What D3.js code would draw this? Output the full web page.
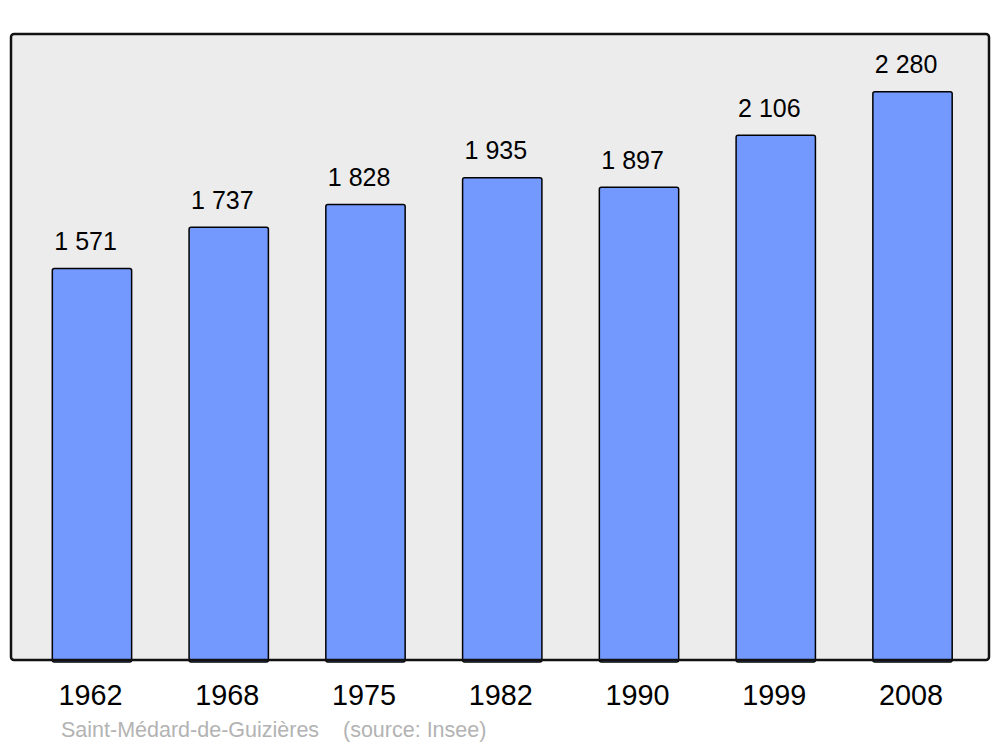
<!DOCTYPE html>
<html>
<head>
<meta charset="utf-8">
<script src="https://cdn.jsdelivr.net/npm/d3@7"></script>
<style>
  body { margin: 0; background: #fff; }
  text { font-family: "Liberation Sans", Arial, sans-serif; }
</style>
</head>
<body>
<div id="chart"></div>
<script>
// population data
const years = ["1962", "1968", "1975", "1982", "1990", "1999", "2008"];
const population = [1571, 1737, 1828, 1935, 1897, 2106, 2280];
const labels = ["1 571", "1 737", "1 828", "1 935", "1 897", "2 106", "2 280"];
const town = "Saint-Médard-de-Guizières";
const source = "(source: Insee)";

const width = 1000, height = 747;

const svg = d3.select("#chart")
    .append("svg")
    .attr("width", width)
    .attr("height", height);

// plot frame
const frame = {left: 11, top: 34, right: 989, bottom: 660};

svg.append("rect")
    .attr("x", frame.left)
    .attr("y", frame.top)
    .attr("width", frame.right - frame.left)
    .attr("height", frame.bottom - frame.top)
    .attr("rx", 3)
    .attr("fill", "#ececec");

const x = d3.scaleBand()
    .domain(years)
    .range([23.6, 980.9])
    .paddingInner(0.42)
    .paddingOuter(0.21);

const y = d3.scaleLinear()
    .domain([0, 2512])
    .range([frame.bottom, frame.top]);

// bars
svg.append("g")
    .selectAll("rect")
    .data(population)
    .enter()
    .append("rect")
        .attr("x", (d, i) => x(years[i]))
        .attr("y", d => y(d))
        .attr("width", x.bandwidth())
        .attr("height", d => frame.bottom - y(d) + 2)
        .attr("rx", 2)
        .attr("fill", "#7399ff")
        .attr("stroke", "#000")
        .attr("stroke-width", 1.5);

// value labels
svg.append("g")
    .selectAll("text")
    .data(population)
    .enter()
    .append("text")
        .attr("x", (d, i) => x(years[i]) + 2)
        .attr("y", d => y(d) - 18.5)
        .attr("font-size", 25)
        .attr("fill", "#000")
        .text((d, i) => labels[i]);

// frame outline on top
svg.append("rect")
    .attr("x", frame.left)
    .attr("y", frame.top)
    .attr("width", frame.right - frame.left)
    .attr("height", frame.bottom - frame.top)
    .attr("rx", 3)
    .attr("fill", "none")
    .attr("stroke", "#111")
    .attr("stroke-width", 2.5);

// year axis labels
const xAxis = svg.append("g")
    .attr("transform", `translate(0,${frame.bottom})`)
    .call(d3.axisBottom(x).tickSize(0).tickPadding(0));
xAxis.select(".domain").remove();
xAxis.selectAll("text")
    .attr("x", -1.5)
    .attr("y", 45)
    .attr("dy", null)
    .attr("font-size", 28.8)
    .attr("font-family", "Liberation Sans, Arial, sans-serif")
    .attr("fill", "#000");

// footnote
svg.append("text")
    .attr("x", 61)
    .attr("y", 737)
    .attr("font-size", 21.5)
    .attr("fill", "#b3b3b3")
    .text(town);
svg.append("text")
    .attr("x", 343)
    .attr("y", 737)
    .attr("font-size", 21.5)
    .attr("fill", "#b3b3b3")
    .text(source);
</script>
</body>
</html>
